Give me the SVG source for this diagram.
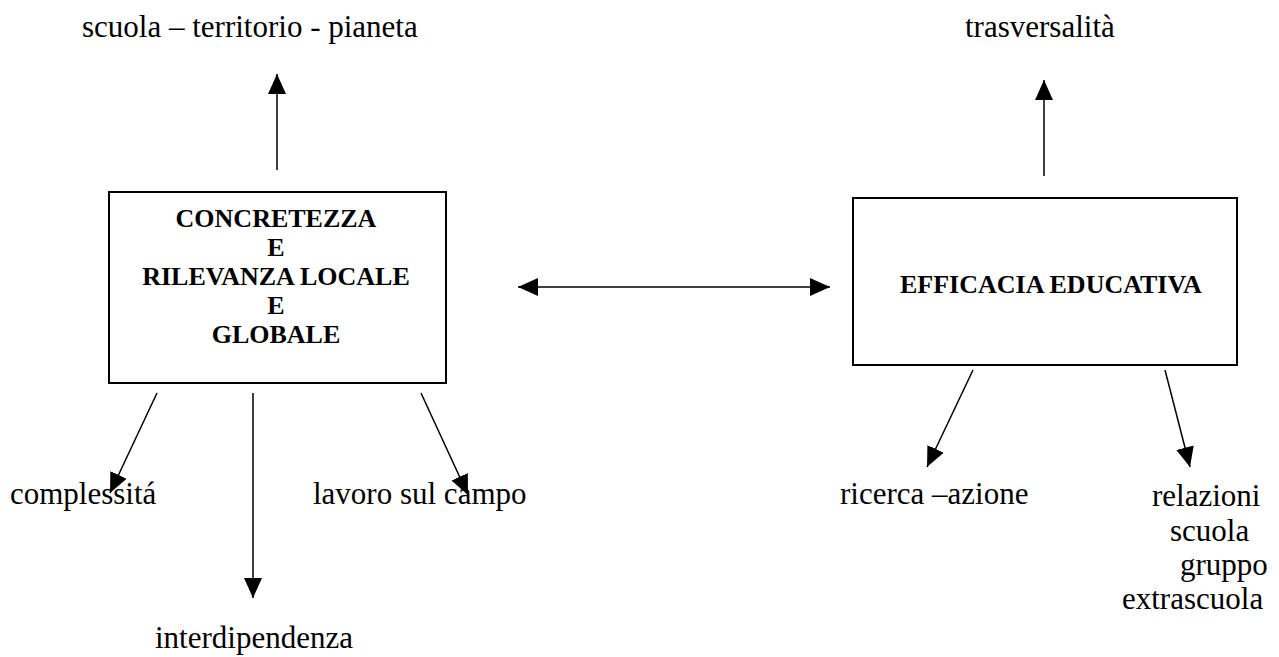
<svg xmlns="http://www.w3.org/2000/svg" width="1279" height="657" viewBox="0 0 1279 657">
<style>
.t{font-family:"Liberation Serif","Times New Roman",serif;font-size:31px;fill:#000}
.b{font-family:"Liberation Serif","Times New Roman",serif;font-size:26px;font-weight:bold;fill:#000;text-anchor:middle}
.box{fill:#fff;stroke:#000;stroke-width:2}
.c{stroke:#000;stroke-width:1.5;fill:none;marker-end:url(#ah)}
</style>
<defs>
<marker id="ah" markerUnits="userSpaceOnUse" markerWidth="20" markerHeight="20" viewBox="0 0 20 20" refX="20" refY="10" orient="auto-start-reverse">
<path d="M0,1 L20,10 L0,19 Z" fill="#000"/>
</marker>
</defs>
<rect width="1279" height="657" fill="#fff"/>
<g id="n-concretezza">
<rect class="box" x="109" y="192" width="337" height="191"/>
<text class="b" x="276" y="227">CONCRETEZZA</text>
<text class="b" x="276" y="256">E</text>
<text class="b" x="276" y="285">RILEVANZA LOCALE</text>
<text class="b" x="276" y="314">E</text>
<text class="b" x="276" y="343">GLOBALE</text>
</g>
<g id="n-efficacia">
<rect class="box" x="853" y="198" width="384" height="167"/>
<text class="b" x="900" y="293" style="text-anchor:start">EFFICACIA EDUCATIVA</text>
</g>
<g id="n-scuola-territorio"><text class="t" x="82" y="37">scuola – territorio - pianeta</text></g>
<g id="n-trasversalita"><text class="t" x="965" y="37">trasversalità</text></g>
<g id="n-complessita"><text class="t" x="10" y="504">complessitá</text></g>
<g id="n-lavoro"><text class="t" x="313" y="504">lavoro sul campo</text></g>
<g id="n-interdipendenza"><text class="t" x="155" y="648">interdipendenza</text></g>
<g id="n-ricerca"><text class="t" x="840" y="504">ricerca –azione</text></g>
<g id="n-relazioni">
<text class="t" x="1152" y="506">relazioni</text>
<text class="t" x="1170" y="541">scuola</text>
<text class="t" x="1180" y="575">gruppo</text>
<text class="t" x="1122" y="609">extrascuola</text>
</g>
<g id="connectors">
<line class="c" x1="277" y1="170" x2="277" y2="74"/>
<line class="c" x1="1044" y1="176" x2="1044" y2="80"/>
<line class="c" x1="518" y1="287" x2="830" y2="287" style="marker-start:url(#ah)"/>
<line class="c" x1="157" y1="393" x2="110" y2="493"/>
<line class="c" x1="253" y1="393" x2="253" y2="598"/>
<line class="c" x1="421" y1="393" x2="468" y2="495"/>
<line class="c" x1="973" y1="370" x2="927" y2="467"/>
<line class="c" x1="1165" y1="370" x2="1190" y2="467"/>
</g>
</svg>
